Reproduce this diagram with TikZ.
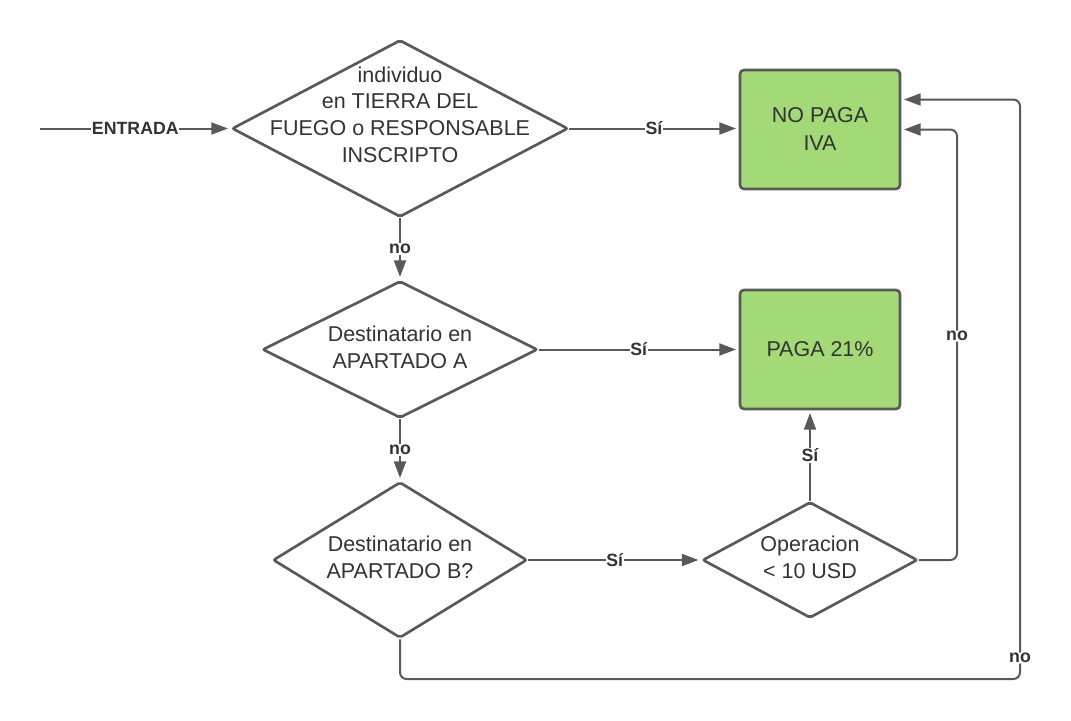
\documentclass[tikz,border=0pt]{standalone}
\usepackage{fontspec}
\setmainfont{Liberation Sans}
\usetikzlibrary{shapes.geometric,arrows.meta}
\definecolor{ln}{HTML}{595959}
\definecolor{gr}{HTML}{A3D977}
\definecolor{tx}{HTML}{333333}
\begin{document}
\begin{tikzpicture}[x=0.75pt,y=-0.75pt,
 dia/.style={diamond, draw=ln, line width=2pt, rounded corners=1.5pt, inner sep=0pt, fill=white},
 box/.style={rectangle, draw=ln, line width=2pt, fill=gr, rounded corners=3pt, minimum width=120pt, minimum height=89.25pt, text=tx, align=center, font=\fontsize{16.1}{21}\selectfont},
 txt/.style={align=center, text=tx, font=\fontsize{16.1}{20}\selectfont, inner sep=0pt},
 conn/.style={draw=ln, line width=1.5pt, -{Triangle[length=12.5pt,width=9pt]}, shorten >=2pt},
 lab/.style={fill=white, text=tx, font=\bfseries\fontsize{13.3}{15}\selectfont, inner sep=0.5pt}]
\useasboundingbox (0,0) rectangle (1071,721);
\fill[white] (0,0) rectangle (1071,721);
% nodes
\node[dia, minimum width=252pt, minimum height=132.75pt] (d1) at (400,128.5) {};
\node[txt] (t1) at (400,114.5) {individuo\\en TIERRA DEL\\FUEGO o RESPONSABLE\\INSCRIPTO};
\node[dia, minimum width=206.25pt, minimum height=102.75pt] (d2) at (400,349.5) {};
\node[txt] (t2) at (400,347) {Destinatario en\\APARTADO A};
\node[dia, minimum width=190.5pt, minimum height=117pt] (d3) at (400,560) {};
\node[txt] (t3) at (400,557) {Destinatario en\\APARTADO B?};
\node[dia, minimum width=161.25pt, minimum height=87pt] (d4) at (810,560) {};
\node[txt] (t4) at (810,557) {Operacion\\< 10 USD};
\node[box] (b1) at (820,129.5) {NO PAGA\\IVA};
\node[box] (b2) at (820,349.5) {PAGA 21\%};
\coordinate (in) at (40,128.5);
% connectors
\draw[conn] (in) -- node[lab]{ENTRADA} (d1.west);
\draw[conn] (d1.east) -- node[lab]{Sí} (b1.west |- d1.east);
\draw[conn] (d1.south) -- node[lab]{no} (d2.north);
\draw[conn] (d2.east) -- node[lab]{Sí} (b2.west |- d2.east);
\draw[conn] (d2.south) -- node[lab]{no} (d3.north);
\draw[conn] (d3.east) -- node[lab]{Sí} (d4.west);
\draw[conn] (d4.north) -- node[lab]{Sí} (d4.north |- b2.south);
\draw[conn, rounded corners=5pt] (d4.east) -- (957,560) -- node[lab,pos=0.52]{no} (957,129.5) -- (b1.east);
\draw[conn, rounded corners=5pt] (d3.south) -- (400,679) -- (1020,679) -- node[lab,pos=0.036]{no} (1020,99.5) -- ([yshift=22.5pt]b1.east);
\end{tikzpicture}
\end{document}
